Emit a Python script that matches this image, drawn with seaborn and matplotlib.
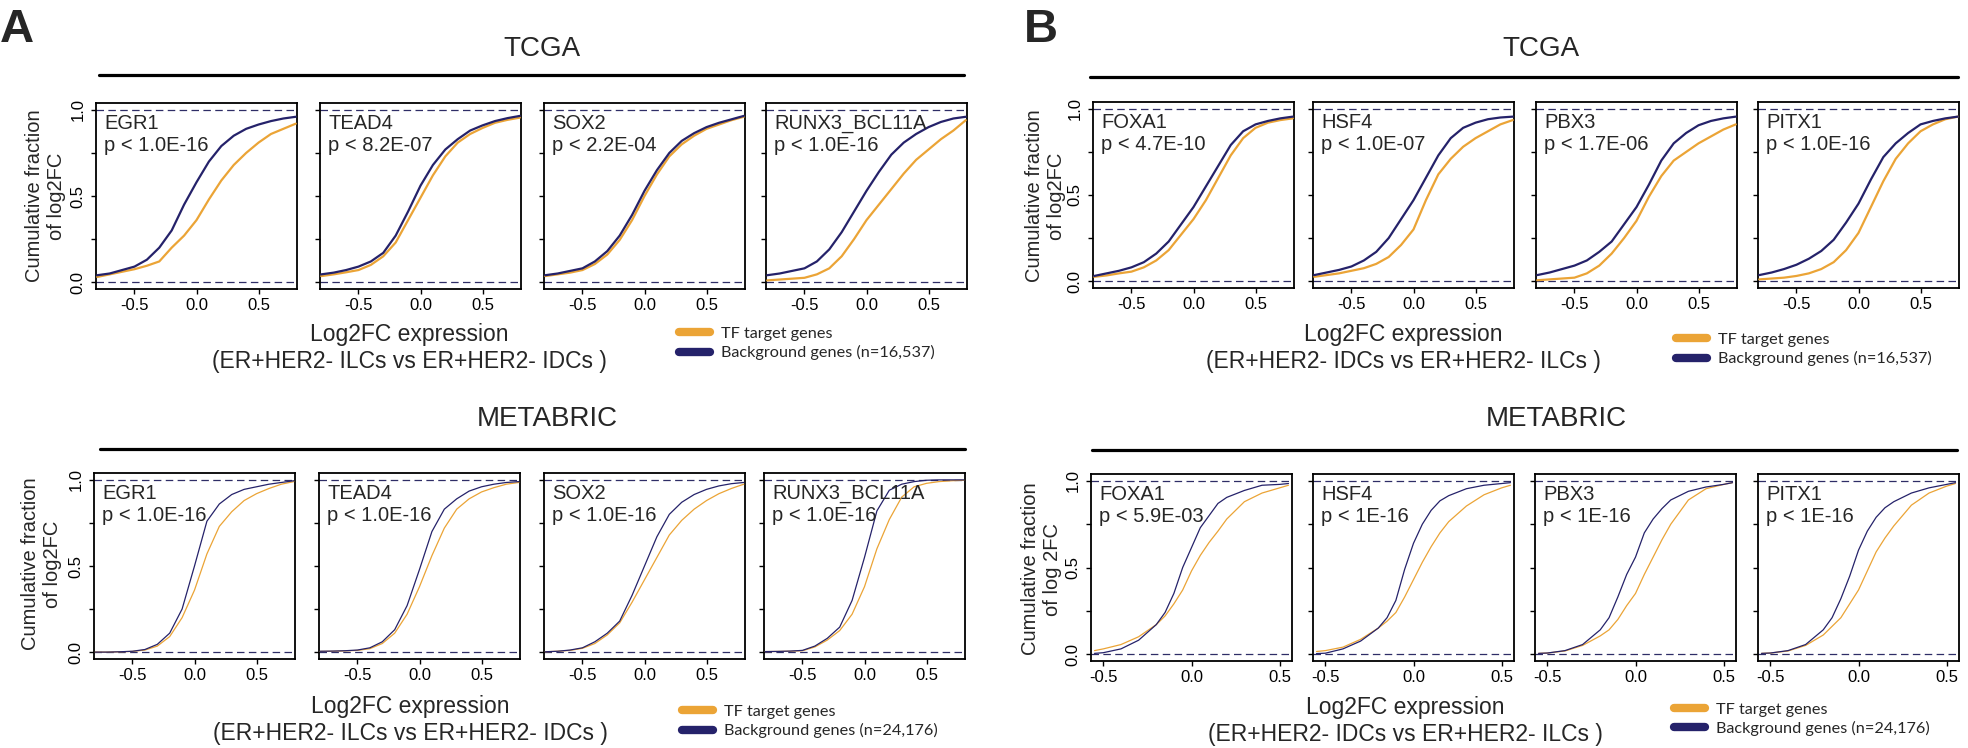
import pandas as pd
import matplotlib
matplotlib.use("Agg")
import matplotlib.pyplot as plt
from matplotlib.lines import Line2D
import seaborn as sns

W, H = 1968, 748
ORANGE = "#EBA436"
NAVY = "#25226A"

# x positions at which the cumulative curves were read
x_wide = [-0.8, -0.7, -0.6, -0.5, -0.4, -0.3, -0.2, -0.1, 0.0, 0.1, 0.2, 0.3, 0.4, 0.5, 0.6, 0.7, 0.8]
x_narrow = [-0.55, -0.5, -0.4, -0.3, -0.2, -0.15, -0.1, -0.05, 0.0, 0.05, 0.1, 0.15, 0.2, 0.3, 0.4, 0.5, 0.55]

# ---- A / TCGA
a_tcga_names = ["EGR1", "TEAD4", "SOX2", "RUNX3_BCL11A"]
a_tcga_pvals = ["p < 1.0E-16", "p < 8.2E-07", "p < 2.2E-04", "p < 1.0E-16"]
egr1_tcga_bg = [0.04, 0.05, 0.07, 0.09, 0.13, 0.20, 0.30, 0.45, 0.58, 0.70, 0.79, 0.85, 0.89, 0.915, 0.935, 0.95, 0.96]
egr1_tcga_tf = [0.03, 0.045, 0.06, 0.075, 0.095, 0.12, 0.20, 0.27, 0.36, 0.48, 0.59, 0.68, 0.75, 0.81, 0.86, 0.89, 0.92]
tead4_tcga_bg = [0.045, 0.055, 0.07, 0.09, 0.12, 0.17, 0.27, 0.41, 0.56, 0.68, 0.77, 0.83, 0.88, 0.91, 0.935, 0.952, 0.965]
tead4_tcga_tf = [0.035, 0.045, 0.057, 0.07, 0.10, 0.15, 0.23, 0.36, 0.49, 0.62, 0.73, 0.81, 0.86, 0.895, 0.925, 0.942, 0.955]
sox2_tcga_bg = [0.04, 0.05, 0.065, 0.08, 0.12, 0.18, 0.27, 0.39, 0.53, 0.65, 0.75, 0.82, 0.865, 0.90, 0.925, 0.945, 0.965]
sox2_tcga_tf = [0.035, 0.045, 0.055, 0.07, 0.105, 0.16, 0.245, 0.36, 0.50, 0.625, 0.73, 0.80, 0.85, 0.89, 0.915, 0.94, 0.96]
runx3_tcga_bg = [0.04, 0.05, 0.065, 0.08, 0.12, 0.19, 0.29, 0.41, 0.53, 0.64, 0.74, 0.81, 0.86, 0.90, 0.93, 0.95, 0.96]
runx3_tcga_tf = [0.01, 0.015, 0.02, 0.025, 0.045, 0.08, 0.15, 0.25, 0.36, 0.45, 0.54, 0.63, 0.71, 0.77, 0.83, 0.88, 0.94]

# ---- B / TCGA
b_tcga_names = ["FOXA1", "HSF4", "PBX3", "PITX1"]
b_tcga_pvals = ["p < 4.7E-10", "p < 1.0E-07", "p < 1.7E-06", "p < 1.0E-16"]
foxa1_tcga_bg = [0.03, 0.045, 0.06, 0.08, 0.11, 0.16, 0.23, 0.33, 0.43, 0.55, 0.67, 0.79, 0.87, 0.91, 0.93, 0.945, 0.955]
foxa1_tcga_tf = [0.025, 0.033, 0.045, 0.055, 0.08, 0.12, 0.18, 0.27, 0.36, 0.47, 0.60, 0.73, 0.83, 0.89, 0.92, 0.935, 0.945]
hsf4_tcga_bg = [0.035, 0.05, 0.065, 0.085, 0.12, 0.17, 0.25, 0.36, 0.47, 0.60, 0.73, 0.83, 0.89, 0.92, 0.94, 0.95, 0.955]
hsf4_tcga_tf = [0.025, 0.035, 0.045, 0.06, 0.075, 0.10, 0.14, 0.21, 0.30, 0.47, 0.62, 0.71, 0.78, 0.83, 0.87, 0.91, 0.935]
pbx3_tcga_bg = [0.035, 0.05, 0.07, 0.09, 0.12, 0.17, 0.23, 0.33, 0.43, 0.56, 0.70, 0.80, 0.86, 0.905, 0.93, 0.945, 0.955]
pbx3_tcga_tf = [0.005, 0.01, 0.015, 0.02, 0.045, 0.09, 0.16, 0.25, 0.35, 0.49, 0.61, 0.70, 0.75, 0.80, 0.84, 0.88, 0.91]
pitx1_tcga_bg = [0.035, 0.05, 0.07, 0.095, 0.13, 0.175, 0.24, 0.34, 0.45, 0.59, 0.72, 0.80, 0.86, 0.91, 0.93, 0.945, 0.955]
pitx1_tcga_tf = [0.01, 0.015, 0.02, 0.03, 0.045, 0.07, 0.11, 0.18, 0.28, 0.43, 0.58, 0.71, 0.80, 0.87, 0.91, 0.94, 0.955]

# ---- A / METABRIC
a_meta_names = ["EGR1", "TEAD4", "SOX2", "RUNX3_BCL11A"]
a_meta_pvals = ["p < 1.0E-16", "p < 1.0E-16", "p < 1.0E-16", "p < 1.0E-16"]
egr1_meta_bg = [0.0, 0.0, 0.002, 0.005, 0.015, 0.045, 0.11, 0.25, 0.50, 0.76, 0.86, 0.915, 0.945, 0.96, 0.975, 0.985, 0.995]
egr1_meta_tf = [0.0, 0.0, 0.002, 0.004, 0.012, 0.035, 0.09, 0.20, 0.36, 0.57, 0.73, 0.815, 0.88, 0.92, 0.95, 0.975, 0.99]
tead4_meta_bg = [0.005, 0.006, 0.008, 0.012, 0.025, 0.06, 0.13, 0.27, 0.48, 0.70, 0.83, 0.89, 0.935, 0.96, 0.975, 0.985, 0.99]
tead4_meta_tf = [0.004, 0.005, 0.007, 0.01, 0.02, 0.05, 0.11, 0.22, 0.38, 0.56, 0.72, 0.83, 0.89, 0.93, 0.955, 0.975, 0.985]
sox2_meta_bg = [0.002, 0.005, 0.012, 0.025, 0.06, 0.11, 0.18, 0.33, 0.50, 0.67, 0.80, 0.87, 0.915, 0.945, 0.965, 0.978, 0.985]
sox2_meta_tf = [0.002, 0.005, 0.01, 0.022, 0.05, 0.10, 0.17, 0.29, 0.42, 0.55, 0.68, 0.765, 0.83, 0.88, 0.92, 0.95, 0.975]
runx3_meta_bg = [0.003, 0.004, 0.006, 0.01, 0.035, 0.08, 0.145, 0.30, 0.55, 0.82, 0.94, 0.975, 0.99, 0.998, 1.0, 1.0, 1.0]
runx3_meta_tf = [0.003, 0.004, 0.005, 0.008, 0.03, 0.07, 0.125, 0.22, 0.38, 0.60, 0.77, 0.90, 0.96, 0.98, 0.99, 0.995, 0.998]

# ---- B / METABRIC
b_meta_names = ["FOXA1", "HSF4", "PBX3", "PITX1"]
b_meta_pvals = ["p < 5.9E-03", "p < 1E-16", "p < 1E-16", "p < 1E-16"]
foxa1_meta_bg = [0.004, 0.008, 0.03, 0.08, 0.17, 0.24, 0.35, 0.50, 0.615, 0.73, 0.80, 0.87, 0.905, 0.945, 0.975, 0.98, 0.985]
foxa1_meta_tf = [0.02, 0.03, 0.055, 0.10, 0.17, 0.22, 0.29, 0.37, 0.48, 0.57, 0.645, 0.71, 0.78, 0.88, 0.93, 0.96, 0.975]
hsf4_meta_bg = [0.003, 0.005, 0.03, 0.075, 0.15, 0.21, 0.31, 0.49, 0.64, 0.75, 0.83, 0.885, 0.915, 0.955, 0.975, 0.985, 0.99]
hsf4_meta_tf = [0.015, 0.02, 0.04, 0.085, 0.15, 0.19, 0.24, 0.33, 0.43, 0.53, 0.62, 0.70, 0.765, 0.855, 0.92, 0.96, 0.975]
pbx3_meta_bg = [0.004, 0.006, 0.02, 0.055, 0.14, 0.21, 0.33, 0.46, 0.56, 0.70, 0.78, 0.84, 0.89, 0.94, 0.965, 0.98, 0.99]
pbx3_meta_tf = [0.004, 0.006, 0.018, 0.05, 0.105, 0.14, 0.20, 0.28, 0.35, 0.46, 0.56, 0.66, 0.75, 0.89, 0.955, 0.98, 0.99]
pitx1_meta_bg = [0.004, 0.006, 0.02, 0.055, 0.14, 0.21, 0.32, 0.45, 0.60, 0.71, 0.79, 0.845, 0.88, 0.93, 0.96, 0.98, 0.99]
pitx1_meta_tf = [0.004, 0.006, 0.018, 0.05, 0.11, 0.16, 0.21, 0.29, 0.37, 0.48, 0.59, 0.67, 0.74, 0.86, 0.93, 0.97, 0.985]

sns.set_theme(style="ticks")
plt.rcParams["font.family"] = ["Liberation Sans", "DejaVu Sans"]
plt.rcParams["axes.unicode_minus"] = False

fig = plt.figure(figsize=(W / 100, H / 100), dpi=100)
fig.patch.set_facecolor("white")


def px_axes(left, top, width, height):
    return fig.add_axes([left / W, 1 - (top + height) / H, width / W, height / H])


def draw_panel(ax, x, bg, tf, name, pval, xlim, lw, first):
    df = pd.DataFrame({
        "x": x + x,
        "y": tf + bg,
        "set": ["tf"] * len(x) + ["bg"] * len(x),
    })
    ax.axhline(0, color="#2e2d66", lw=0.9, dashes=(6, 3.5), zorder=1)
    ax.axhline(1, color="#2e2d66", lw=0.9, dashes=(6, 3.5), zorder=1)
    sns.lineplot(data=df, x="x", y="y", hue="set", hue_order=["tf", "bg"],
                 palette={"tf": ORANGE, "bg": NAVY}, lw=lw, sort=False,
                 estimator=None, legend=False, ax=ax, zorder=3)
    ax.set_xlim(xlim)
    ax.set_ylim(-0.04, 1.04)
    ax.set_xticks([-0.5, 0.0, 0.5])
    ax.set_xticklabels(["-0.5", "0.0", "0.5"])
    ax.set_yticks([0, 0.25, 0.5, 0.75, 1.0])
    if first:
        ax.set_yticklabels(["0.0", "", "0.5", "", "1.0"])
    else:
        ax.set_yticklabels([])
    ax.set_xlabel("")
    ax.set_ylabel("")
    ax.tick_params(direction="out", length=3.5, width=1, labelsize=12,
                   color="black", labelcolor="black", pad=3)
    ax.tick_params(axis="y", labelrotation=90, pad=4)
    for lab in ax.get_yticklabels():
        lab.set_va("center")
    for sp in ax.spines.values():
        sp.set_visible(True)
        sp.set_linewidth(1.3)
        sp.set_color("black")
    ax.text(0.04, 0.94, name + "\n" + pval, transform=ax.transAxes,
            ha="left", va="top", fontsize=14.5, linespacing=1.2, zorder=5)


rows = [
    # lefts, top, width, height, names, pvals, curves, x, xlim, lw
    ([96, 320, 544, 766], 103, 201, 186, a_tcga_names, a_tcga_pvals,
     [(egr1_tcga_bg, egr1_tcga_tf), (tead4_tcga_bg, tead4_tcga_tf),
      (sox2_tcga_bg, sox2_tcga_tf), (runx3_tcga_bg, runx3_tcga_tf)],
     x_wide, (-0.81, 0.81), 1.6),
    ([1093, 1313, 1536, 1758], 102, 201, 186, b_tcga_names, b_tcga_pvals,
     [(foxa1_tcga_bg, foxa1_tcga_tf), (hsf4_tcga_bg, hsf4_tcga_tf),
      (pbx3_tcga_bg, pbx3_tcga_tf), (pitx1_tcga_bg, pitx1_tcga_tf)],
     x_wide, (-0.81, 0.81), 1.6),
    ([94, 319, 544, 764], 473, 201, 186, a_meta_names, a_meta_pvals,
     [(egr1_meta_bg, egr1_meta_tf), (tead4_meta_bg, tead4_meta_tf),
      (sox2_meta_bg, sox2_meta_tf), (runx3_meta_bg, runx3_meta_tf)],
     x_wide, (-0.81, 0.81), 0.9),
    ([1091, 1313, 1535, 1758], 474, 201, 187, b_meta_names, b_meta_pvals,
     [(foxa1_meta_bg, foxa1_meta_tf), (hsf4_meta_bg, hsf4_meta_tf),
      (pbx3_meta_bg, pbx3_meta_tf), (pitx1_meta_bg, pitx1_meta_tf)],
     x_narrow, (-0.57, 0.57), 0.9),
]

for lefts, top, w, h, names, pvals, curves, xs, xlim, lw in rows:
    for i, left in enumerate(lefts):
        ax = px_axes(left, top, w, h)
        bg, tf = curves[i]
        draw_panel(ax, xs, bg, tf, names[i], pvals[i], xlim, lw, i == 0)


def ftext(x, y, s, **kw):
    fig.text(x / W, 1 - y / H, s, **kw)


# panel letters
ftext(0, 42, "A", fontsize=34, fontweight="bold", ha="left", va="baseline")
ftext(1024, 42, "B", fontsize=34, fontweight="bold", ha="left", va="baseline")

# dataset headers with rule lines
headers = [("TCGA", 542, 49, 75, 99, 964), ("TCGA", 1541, 49, 77, 1090, 1958),
           ("METABRIC", 547, 419, 449, 100, 965), ("METABRIC", 1556, 419, 450, 1092, 1957)]
for title, cx, cy, ly, x0, x1 in headers:
    ftext(cx, cy, title, fontsize=20, ha="center", va="center")
    fig.add_artist(Line2D([x0 / W, x1 / W], [1 - ly / H, 1 - ly / H],
                          color="black", lw=2.3, transform=fig.transFigure))

# y labels
ylabels = [("Cumulative fraction\nof log2FC", 45, 196), ("Cumulative fraction\nof log2FC", 1045, 196),
           ("Cumulative fraction\nof log2FC", 42, 564), ("Cumulative fraction\nof log 2FC", 1042, 569)]
for s, cx, cy in ylabels:
    ftext(cx, cy, s, fontsize=14.5, rotation=90, ha="center", va="center", linespacing=1.2)

# x labels
xlabels = [("Log2FC expression\n(ER+HER2- ILCs vs ER+HER2- IDCs )", 409, 348),
           ("Log2FC expression\n(ER+HER2- IDCs vs ER+HER2- ILCs )", 1403, 348),
           ("Log2FC expression\n(ER+HER2- ILCs vs ER+HER2- IDCs )", 410, 720),
           ("Log2FC expression\n(ER+HER2- IDCs vs ER+HER2- ILCs )", 1405, 721)]
for s, cx, cy in xlabels:
    ftext(cx, cy, s, fontsize=16.5, ha="center", va="center", linespacing=1.2)

# legends
legends = [(679, 343.5, "16,537"), (1676, 349.5, "16,537"), (682, 721.5, "24,176"), (1674, 719, "24,176")]
for lx, ly, n in legends:
    handles = [Line2D([], [], color=ORANGE, lw=6, solid_capstyle="round"),
               Line2D([], [], color=NAVY, lw=6, solid_capstyle="round")]
    fig.legend(handles, ["TF target genes", "Background genes (n=" + n + ")"],
               loc="center left", bbox_to_anchor=(lx / W, 1 - ly / H),
               frameon=False, prop={"family": ["Lato", "DejaVu Sans"], "size": 11.7},
               handlelength=1.9, handletextpad=0.7, labelspacing=0.25,
               borderpad=0, borderaxespad=0)

fig.savefig("out.png", dpi=100, facecolor="white")
